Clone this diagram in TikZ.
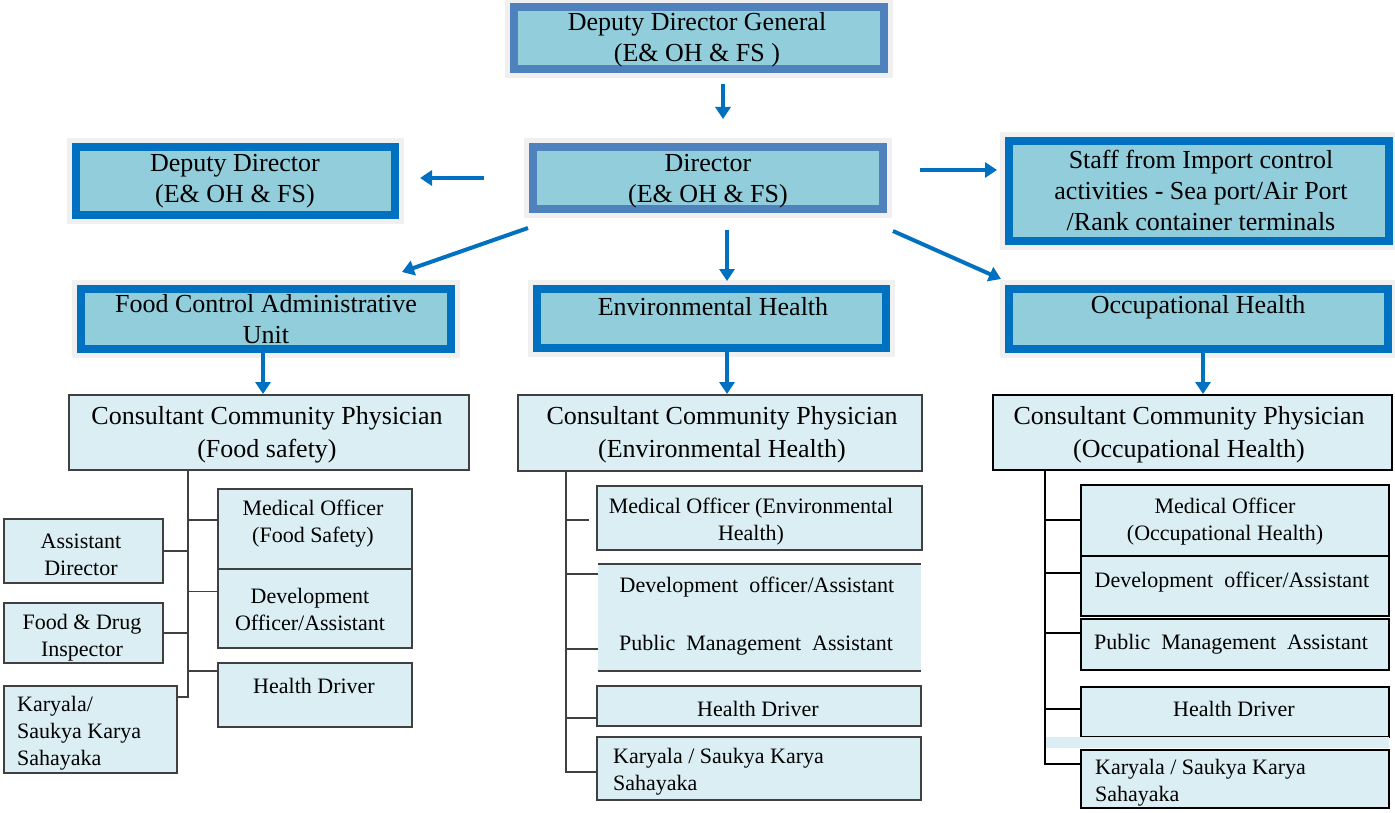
\documentclass[tikz,border=0pt]{standalone}
\usepackage{fontspec}
\setmainfont{Liberation Serif}
\usetikzlibrary{arrows.meta,calc}
\definecolor{topfill}{HTML}{92CDDC}
\definecolor{dkblue}{HTML}{4F81BD}
\definecolor{brblue}{HTML}{0070C0}
\definecolor{halo}{HTML}{F0F0F0}
\definecolor{subfill}{HTML}{DAEEF3}
\definecolor{graybd}{HTML}{404040}
\newcommand\bigf{\fontsize{26}{31}\selectfont}
\newcommand\smf{\fontsize{22}{27}\selectfont}
\newcommand\rectnode[6]{\node[#2, minimum width={(#5)-(#3)}, minimum height={(#6)-(#4)}] (#1) at ({((#3)+(#5))/2},{((#4)+(#6))/2}) {};}
\begin{document}
\begin{tikzpicture}[x=1pt,y=-1pt,
  topbox/.style={draw=brblue, line width=8pt, fill=topfill, inner sep=0pt, outer sep=0pt,
     preaction={draw=halo, line width=18pt}},
  topboxd/.style={topbox, draw=dkblue},
  ccp/.style={draw=graybd, line width=1.3pt, fill=subfill, inner sep=0pt, outer sep=0pt},
  ccpk/.style={ccp, draw=black, line width=2pt},
  sub/.style={draw=graybd, line width=1.3pt, fill=subfill, inner sep=0pt, outer sep=0pt},
  subnob/.style={fill=subfill, inner sep=0pt, outer sep=0pt},
  subk/.style={sub, draw=black, line width=2pt},
  bigt/.style={font=\bigf, align=center, inner sep=0pt, yshift=-2.5pt},
  smt/.style={font=\smf, align=center, inner sep=0pt, yshift=-2.5pt},
  arr/.style={draw=brblue, line width=4pt, -{Triangle[length=12pt,width=15pt]}},
  conn/.style={draw=graybd, line width=1.3pt},
  connk/.style={draw=black, line width=2pt}]
\useasboundingbox (0,0) rectangle (1395,813);
\fill[white] (0,0) rectangle (1395,813);

% top-level boxes
\rectnode{ddg}{topboxd}{514}{7}{884}{69}
\rectnode{dir}{topboxd}{533}{147}{883}{209}
\rectnode{dd}{topbox}{76}{147}{395}{215}
\rectnode{staff}{topbox}{1009}{141}{1389}{241}
\rectnode{food}{topbox}{81}{289}{451}{349}
\rectnode{env}{topbox}{537}{289}{886}{348}
\rectnode{occ}{topbox}{1009}{289}{1388}{349}

\node[bigt] (ddgt) at (697,37) {Deputy Director General\\(E\& OH \& FS )};
\node[bigt] (dirt) at (708,179) {Director\\(E\& OH \& FS)};
\node[bigt] (ddt) at (235,179) {Deputy Director\\(E\& OH \& FS)};
\node[bigt] (stafft) at (1201,188) {Staff from Import control\\activities - Sea port/Air Port\\/Rank container terminals};
\node[bigt] (foodt) at (266,317) {Food Control Administrative\\Unit};
\node[bigt] (envt) at (713,304) {Environmental Health};
\node[bigt] (occt) at (1198,305) {Occupational Health};

% arrows
\draw[arr] ($(ddg.south)+(24,15)$) -- ($(dir.north)+(15,-28)$);
\draw[arr] ($(dir.west)+(-49,0)$) -- ($(dd.east)+(25,-3)$);
\draw[arr] ($(dir.east)+(37,-8)$) -- ($(staff.west)+(-12,-21)$);
\draw[arr] ($(dir.south west)+(-5,19)$) -- ($(food.north east)+(-49,-17)$);
\draw[arr] ($(dir.south)+(19,21)$) -- ($(env.north)+(15.5,-8)$);
\draw[arr] ($(dir.south east)+(10,22)$) -- ($(occ.north west)+(-8,-10)$);

% consultant boxes
\rectnode{ccp1}{ccp}{69}{395}{469}{470}
\rectnode{ccp2}{ccp}{518}{395}{922}{471}
\rectnode{ccp3}{ccpk}{993}{395}{1392}{470}
\node[bigt, font=\fontsize{26}{33}\selectfont] (ccp1t) at (267,432) {Consultant Community Physician\\(Food safety)};
\node[bigt, font=\fontsize{26}{33}\selectfont] (ccp2t) at (722,432) {Consultant Community Physician\\(Environmental Health)};
\node[bigt, font=\fontsize{26}{33}\selectfont] (ccp3t) at (1189,432) {Consultant Community Physician\\(Occupational Health)};

\draw[arr] ($(food.south)+(-3,4)$) -- ($(ccp1.north)+(-6,-1)$);
\draw[arr] ($(env.south)+(15.5,4)$) -- ($(ccp2.north)+(7,-1)$);
\draw[arr] ($(occ.south)+(4.5,4)$) -- ($(ccp3.north)+(10.5,-1)$);

% left column
\rectnode{ad}{sub}{4}{519}{163}{583}
\rectnode{fdi}{sub}{4}{603}{163}{663}
\rectnode{kar1}{sub}{4}{686}{177}{773}
\rectnode{mo1}{sub}{218}{489}{412}{569}
\rectnode{dev1}{sub}{218}{569}{412}{648}
\rectnode{hd1}{sub}{218}{663}{412}{727}
\coordinate (t1) at ($(ccp1.south)+(-81,0)$);
\draw[conn] (t1) -- ($(kar1.north east)+(11,11)$) -- ($(kar1.north east)+(0,11)$);
\draw[conn] (ad.east) -- (ad.east -| t1);
\draw[conn] (fdi.east) -- (fdi.east -| t1);
\draw[conn] ($(mo1.west)+(0,-9)$) -- ++(-30,0);
\draw[conn] ($(dev1.west)+(0,-17)$) -- ++(-30,0);
\draw[conn] ($(hd1.west)+(0,-24)$) -- ++(-30,0);
\node[smt] (adt) at (81,552) {Assistant\\Director};
\node[smt] (fdit) at (82,635) {Food \& Drug\\Inspector};
\node[smt, align=left, anchor=west] (kar1t) at (17,731) {Karyala/\\Saukya Karya\\Sahayaka};
\node[smt] (mo1t) at (313,521) {Medical Officer\\(Food Safety)};
\node[smt] (dev1t) at (310,607) {Development\\Officer/Assistant};
\node[smt] (hd1t) at (314,683) {Health Driver};

% middle column
\rectnode{mo2}{sub}{597}{486}{922}{550}
\rectnode{dp2}{subnob}{598}{564}{921}{671}
\draw[conn] (dp2.north west) -- (dp2.north east);
\draw[conn] (dp2.south west) -- (dp2.south east);
\rectnode{hd2}{sub}{597}{686}{921}{726}
\rectnode{kar2}{sub}{597}{737}{921}{800}
\coordinate (t2) at ($(ccp2.south)+(-154,0)$);
\draw[conn] (t2) -- ($(kar2.west)+(-31,3.5)$) -- ($(kar2.west)+(0,3.5)$);
\draw[conn] ($(mo2.west)+(-8,2)$) -- ++(-23,0);
\draw[conn] ($(dp2.west)+(0,-43.5)$) -- ++(-32,0);
\draw[conn] ($(dp2.west)+(0,31.5)$) -- ++(-32,0);
\draw[conn] ($(hd2.west)+(0,12)$) -- ++(-31,0);
\node[smt] (mo2t) at (751,519) {Medical Officer (Environmental\\Health)};
\node[smt] (dp2a) at (757,585) {Development\ \ officer/Assistant};
\node[smt] (dp2b) at (756,643) {Public\ \ Management\ \ Assistant};
\node[smt] (hd2t) at (758,706) {Health Driver};
\node[smt, align=left, anchor=west] (kar2t) at (613,769) {Karyala / Saukya Karya\\Sahayaka};

% right column
\rectnode{mo3}{subk}{1081}{485}{1389}{556}
\rectnode{dev3}{subk}{1081}{556}{1389}{616}
\rectnode{pma3}{subk}{1081}{619}{1389}{670}
\rectnode{hd3}{subk}{1081}{687}{1389}{737}
\fill[subfill] (1045,737) rectangle (1389,748);
\rectnode{kar3}{subk}{1081}{750}{1389}{808}
\coordinate (t3) at ($(ccp3.south)+(-147.5,0)$);
\draw[connk] (t3) -- ($(kar3.west)+(-36,-15)$) -- ($(kar3.west)+(0,-15)$);
\draw[connk] ($(mo3.west)+(0,-0.5)$) -- ++(-36,0);
\draw[connk] ($(dev3.west)+(0,-13)$) -- ++(-36,0);
\draw[connk] ($(pma3.west)+(0,-11.5)$) -- ++(-36,0);
\draw[connk] ($(hd3.west)+(0,-3)$) -- ++(-36,0);
\node[smt] (mo3t) at (1225,519) {Medical Officer\\(Occupational Health)};
\node[smt] (dev3t) at (1232,580) {Development\ \ officer/Assistant};
\node[smt] (pma3t) at (1231,642) {Public\ \ Management\ \ Assistant};
\node[smt] (hd3t) at (1234,706) {Health Driver};
\node[smt, align=left, anchor=west] (kar3t) at (1095,780) {Karyala / Saukya Karya\\Sahayaka};
\end{tikzpicture}
\end{document}
